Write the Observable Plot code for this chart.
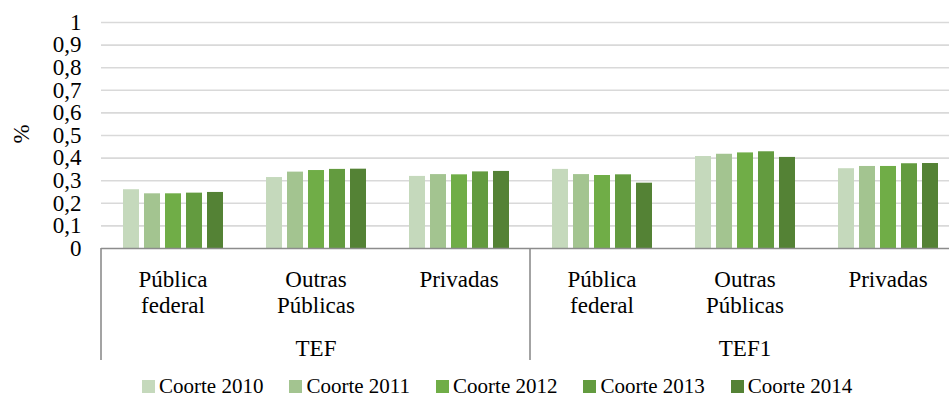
<!DOCTYPE html>
<html><head><meta charset="utf-8">
<script src="https://cdn.jsdelivr.net/npm/d3@7"></script>
<script src="https://cdn.jsdelivr.net/npm/@observablehq/plot@0.6"></script>
<style>
html,body{margin:0;padding:0;background:#fff;overflow:hidden;}
body{width:949px;height:407px;color:#000;}
#legend{display:flex;align-items:center;height:42px;padding-left:142px;box-sizing:border-box;font-size:21px;}
.item{display:flex;align-items:center;margin-right:26px;white-space:nowrap;}
.sw{width:13px;height:13px;margin-right:4px;display:inline-block;}
</style></head><body>
<div id="chart"></div>
<div id="legend"></div>
<script>
const groups = ["TEF", "TEF1"];
const categories = ["Pública federal", "Outras Públicas", "Privadas"];
const categoryLabels = ["Pública\nfederal", "Outras\nPúblicas", "Privadas"];
const cohorts = ["Coorte 2010", "Coorte 2011", "Coorte 2012", "Coorte 2013", "Coorte 2014"];
const colors = ["#c5d9bc", "#a3c490", "#70ad47", "#639b3f", "#548235"];
// values[category][cohort]
const tefValues = [
  [0.260, 0.242, 0.242, 0.245, 0.248],
  [0.314, 0.338, 0.345, 0.350, 0.351],
  [0.319, 0.327, 0.326, 0.339, 0.341]
];
const tef1Values = [
  [0.350, 0.327, 0.323, 0.326, 0.289],
  [0.407, 0.417, 0.423, 0.428, 0.403],
  [0.353, 0.363, 0.363, 0.375, 0.376]
];
const yTicks = [0, 0.1, 0.2, 0.3, 0.4, 0.5, 0.6, 0.7, 0.8, 0.9, 1];
const yTickLabels = ["0", "0,1", "0,2", "0,3", "0,4", "0,5", "0,6", "0,7", "0,8", "0,9", "1"];
const yLabel = "%";

const groupValues = {TEF: tefValues, TEF1: tef1Values};
const keys = [];
const rows = [];
const catRows = [];
groups.forEach(g => categories.forEach((c, ci) => {
  const key = g + "|" + c;
  keys.push(key);
  catRows.push({key, label: categoryLabels[ci]});
  cohorts.forEach((co, k) => rows.push({key, cohort: co, value: groupValues[g][ci][k]}));
}));
const groupRows = groups.map(g => ({key: g + "|" + categories[1], label: g}));
const firstKeys = groups.map(g => g + "|" + categories[0]);

const FONT = `"Liberation Serif", "Times New Roman", Tinos, Times`;
const FS = 23;
const plot = Plot.plot({
  width: 949, height: 365,
  marginLeft: 98, marginRight: -12, marginTop: 22, marginBottom: 117,
  style: {fontFamily: FONT, fontSize: FS + "px", color: "#000", background: "#fff", overflow: "visible"},
  fx: {domain: keys, padding: 0, axis: null},
  x: {domain: cohorts, paddingInner: 0.245, paddingOuter: 0.873, axis: null},
  y: {domain: [0, 1]},
  color: {domain: cohorts, range: colors},
  marks: [
    Plot.gridY(yTicks.filter(d => d > 0), {stroke: "#d9d9d9", strokeOpacity: 1, strokeWidth: 1.6}),
    Plot.axisY({ticks: yTicks, tickSize: 0, tickPadding: 20, fontSize: FS,
      tickFormat: d => yTickLabels[yTicks.indexOf(d)] ?? "", label: null}),
    Plot.barY(rows, {fx: "key", x: "cohort", y: "value", fill: "cohort"}),
    Plot.ruleY([0], {stroke: "#8c8c8c", strokeWidth: 1.6}),
    Plot.text(catRows, {fx: "key", text: "label", frameAnchor: "bottom", lineAnchor: "top", dy: 21, lineHeight: 1.1, fontSize: FS, fill: "#000"}),
    Plot.text(groupRows, {fx: "key", text: "label", frameAnchor: "bottom", lineAnchor: "top", dy: 91, fontSize: FS, fill: "#000"}),
    Plot.text([{key: keys[0], label: yLabel}], {fx: "key", text: "label", frameAnchor: "left", dx: -80, dy: 8, rotate: -90, fontSize: FS, fill: "#000"})
  ]
});
document.getElementById("chart").appendChild(plot);

// group divider lines, positioned from the plot's own scales
const fxS = plot.scale("fx"), yS = plot.scale("y");
const y0 = yS.apply(0);
const svgEl = plot.tagName.toLowerCase() === "svg" ? plot : plot.querySelector("svg");
const svg = d3.select(svgEl);
firstKeys.forEach(k => {
  const x = fxS.apply(k);
  svg.append("line").attr("x1", x).attr("x2", x).attr("y1", y0).attr("y2", y0 + 112)
    .attr("stroke", "#8c8c8c").attr("stroke-width", 1.6);
});

const leg = document.getElementById("legend");
cohorts.forEach((c, i) => {
  const it = document.createElement("div");
  it.className = "item";
  const sw = document.createElement("span");
  sw.className = "sw";
  sw.style.background = colors[i];
  const tx = document.createElement("span");
  tx.textContent = c;
  it.appendChild(sw); it.appendChild(tx);
  leg.appendChild(it);
});
// apply the font on every text-bearing element, with several methods
function setFont(e) {
  e.setAttribute("font-family", FONT);
  e.style.setProperty("font-family", FONT, "important");
}
setFont(document.documentElement);
setFont(document.body);
setFont(svgEl);
svgEl.querySelectorAll("g, text, tspan").forEach(setFont);
setFont(leg);
leg.querySelectorAll("span, div").forEach(setFont);
const st = document.createElement("style");
st.textContent = `html body *, html body svg text, html body svg tspan { font-family: ${FONT} !important; }`;
document.head.appendChild(st);
</script>
</body></html>
